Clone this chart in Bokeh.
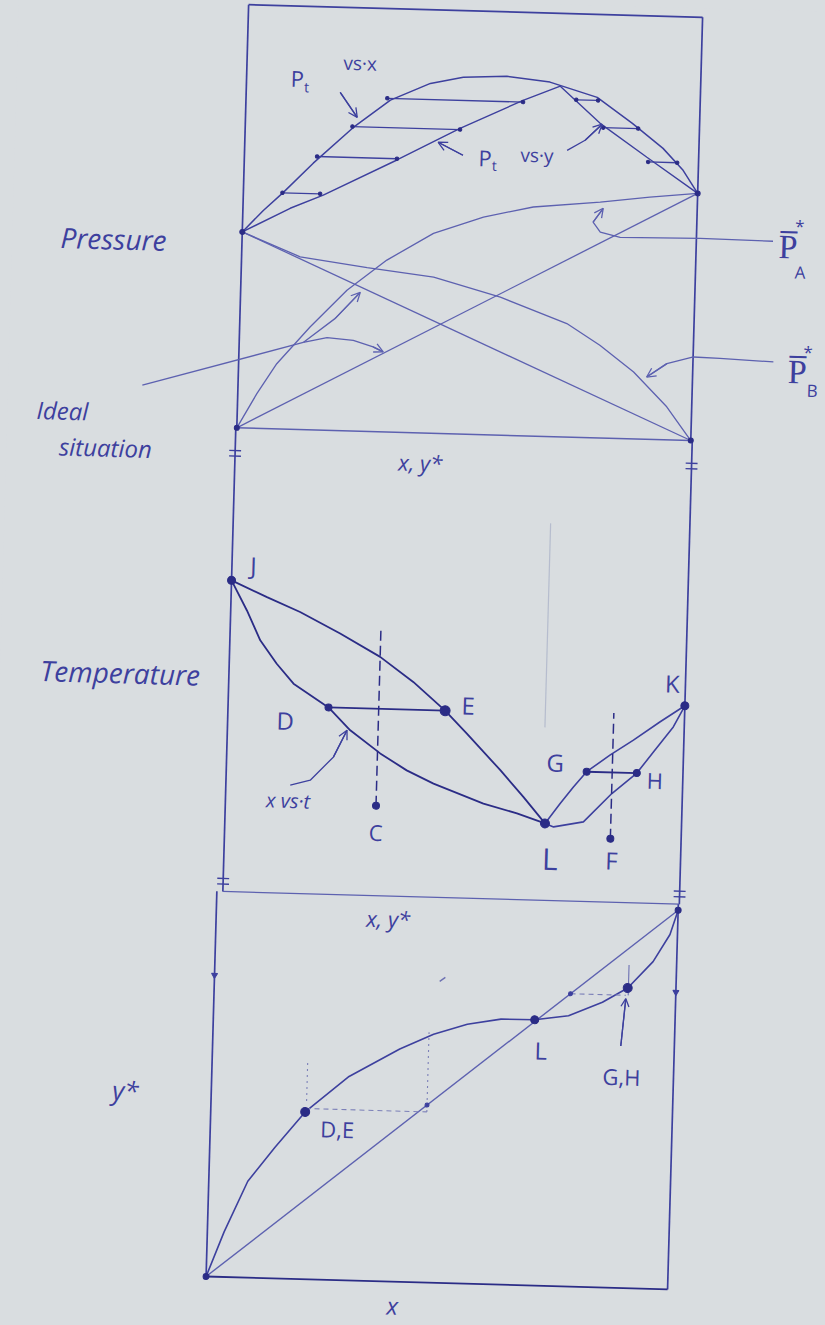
import math

from bokeh.plotting import figure
from bokeh.models import Range1d, Arrow, OpenHead, ColumnDataSource
from bokeh.layouts import column
from bokeh.core.properties import value
from bokeh.embed import file_html
from bokeh.resources import INLINE

W, H = 825, 1325
TILT = 1.6                       # the sheet sits slightly turned (degrees, clockwise)
PAPER = "#d9dde0"
INK = "#3d409e"
INK_SOFT = "#5d61b0"
INK_DARK = "#2b2c86"
FONT = "Open Sans"

# ---------------- pressure / composition diagram ----------------
PA_STAR = 0.584          # vapour pressure of pure A (x = 1)
PB_STAR = 0.463          # vapour pressure of pure B (x = 0)

pt_x_comp = [0.0, 0.045, 0.088, 0.152, 0.238, 0.318, 0.405, 0.477, 0.573, 0.668, 0.773, 0.852, 0.921, 0.9665, 1.0]
pt_x_pres = [PB_STAR, 0.515, 0.559, 0.630, 0.717, 0.784, 0.826, 0.843, 0.848, 0.837, 0.804, 0.745, 0.688, 0.6375, PA_STAR]

pt_y_comp = [0.0, 0.104, 0.176, 0.336, 0.473, 0.610, 0.691, 0.781, 0.886, 1.0]
pt_y_pres = [PB_STAR, 0.522, 0.555, 0.643, 0.722, 0.792, 0.828, 0.743, 0.666, PA_STAR]

tie_pres = [0.788, 0.719, 0.646, 0.558, 0.733, 0.655, 0.797]
tie_from = [0.311, 0.236, 0.160, 0.086, 0.788, 0.889, 0.727]
tie_to = [0.610, 0.473, 0.336, 0.169, 0.865, 0.953, 0.775]

pa_comp = [0.0, 0.042, 0.084, 0.155, 0.234, 0.320, 0.421, 0.530, 0.639, 0.786, 0.895, 1.0]
pa_pres = [0.0, 0.082, 0.154, 0.243, 0.332, 0.406, 0.472, 0.514, 0.541, 0.557, 0.572, PA_STAR]

pb_comp = [0.0, 0.129, 0.277, 0.424, 0.572, 0.720, 0.794, 0.870, 0.945, 1.0]
pb_pres = [PB_STAR, 0.408, 0.387, 0.369, 0.326, 0.268, 0.219, 0.158, 0.078, 0.0]

# ---------------- temperature / composition diagram ----------------
dew_comp = [0.0, 0.0786, 0.152, 0.241, 0.330, 0.404, 0.4755, 0.5245, 0.600, 0.652, 0.701]
dew_temp = [0.671, 0.637, 0.607, 0.563, 0.515, 0.463, 0.403, 0.355, 0.278, 0.222, 0.166]

bub_comp = [0.0, 0.0355, 0.0665, 0.104, 0.142, 0.220, 0.269, 0.336, 0.395, 0.4545, 0.565, 0.639, 0.701]
bub_temp = [0.671, 0.607, 0.5435, 0.494, 0.452, 0.403, 0.355, 0.307, 0.272, 0.245, 0.205, 0.186, 0.166]

dew2_comp = [0.701, 0.733, 0.761, 0.789, 0.839, 0.8895, 0.947, 1.0]
dew2_temp = [0.166, 0.2097, 0.246, 0.280, 0.317, 0.351, 0.392, 0.428]

bub2_comp = [0.701, 0.720, 0.785, 0.8455, 0.899, 0.934, 0.976, 1.0]
bub2_temp = [0.166, 0.159, 0.1716, 0.2345, 0.280, 0.3265, 0.3817, 0.428]

t_point_names = ["J", "D", "E", "K", "L", "G", "H", "C", "F"]
t_point_comp = [0.0, 0.220, 0.4755, 1.0, 0.701, 0.789, 0.899, 0.330, 0.845]
t_point_temp = [0.671, 0.403, 0.403, 0.428, 0.166, 0.280, 0.280, 0.194, 0.137]

feed_comp = [0.330, 0.845]          # overall compositions C and F
feed_top = [0.580, 0.408]

# ---------------- y* / x diagram ----------------
eq_x = [0.0, 0.0363, 0.0845, 0.141, 0.2046, 0.2975, 0.4056, 0.478, 0.5504, 0.623, 0.696, 0.769, 0.8416, 0.8955, 0.9488, 0.9838, 1.0]
eq_y = [0.0, 0.1189, 0.254, 0.345, 0.441, 0.5377, 0.614, 0.655, 0.684, 0.700, 0.7008, 0.714, 0.752, 0.7915, 0.8627, 0.9354, 1.0]

y_point_names = ["D,E", "L", "G,H"]
y_point_x = [0.2046, 0.696, 0.8955]
y_point_y = [0.441, 0.7008, 0.7915]


# ---------------- figure and panel scales ----------------
# the turned sheet is laid out by Bokeh at the size of its rotated bounding box
_c, _s = math.cos(math.radians(TILT)), math.sin(math.radians(TILT))
CW = W * _c + H * _s
CH = W * _s + H * _c


def x_span(u0, u1):
    k = u1 - u0
    return Range1d(-u0 / k, (CW - u0) / k)


def y_span(v0, v1):
    k = v0 - v1
    return Range1d((v0 - CH) / k, v0 / k)


p = figure(width=W, height=H, output_backend="svg", toolbar_location=None,
           min_border=0, x_axis_location=None, y_axis_location=None,
           x_range=Range1d(0, 1), y_range=Range1d(0, 1),
           background_fill_color=PAPER, border_fill_color=PAPER,
           outline_line_color=None)
p.grid.visible = False
p.extra_x_ranges = {"Px": x_span(230, 684.5), "Tx": x_span(229, 686), "Yx": x_span(223, 685)}
p.extra_y_ranges = {"P": y_span(432.5, 9), "T": y_span(896.5, 432.5), "Y": y_span(1282, 902.6)}

PP = dict(x_range_name="Px", y_range_name="P")
TT = dict(x_range_name="Tx", y_range_name="T")
YY = dict(x_range_name="Yx", y_range_name="Y")


def curve(xs, ys, kw, color=INK, width=1.4, dash="solid", alpha=1.0):
    p.line(xs, ys, line_color=color, line_width=width, line_dash=dash, line_alpha=alpha, **kw)


def arrow(xs, ys, kw, color=INK_SOFT, width=1.3, size=9):
    p.line(xs, ys, line_color=color, line_width=width, **kw)
    p.add_layout(Arrow(end=OpenHead(size=size, line_color=color, line_width=width),
                       x_start=xs[-2], y_start=ys[-2], x_end=xs[-1], y_end=ys[-1],
                       line_color=color, line_width=width, **kw))


def labels(kw, xs, ys, texts, sizes, style="normal", color=INK):
    src = ColumnDataSource(dict(x=xs, y=ys, t=texts, s=sizes))
    p.text("x", "y", text="t", source=src, text_font_size={"field": "s"},
           text_font=value(FONT), text_font_style=style, text_color=color,
           text_align="center", text_baseline="middle", **kw)


# ---- frames ----
FR = dict(color=INK, width=1.7)
curve([0, 1], [1.0, 1.0], PP, **FR)
curve([0, 0], [1.0, 0.0], PP, **FR)
curve([1, 1], [1.0, 0.0], PP, **FR)
curve([0, 1], [0.0, 0.0], PP, color=INK_SOFT, width=1.5)
curve([0, 0], [1.0, 0.0], TT, **FR)
curve([1, 1], [1.0, 0.0], TT, **FR)
curve([0, 1], [0.0, 0.0], TT, color=INK_SOFT, width=1.3)
curve([0, 0], [1.016, 0.0], YY, **FR)
curve([1, 1], [1.016, 0.0], YY, **FR)
curve([0, 1], [0.0, 0.0], YY, color=INK_DARK, width=1.8)

# "=" break marks on the verticals between the diagrams
for t in (0.945, 0.022):
    p.segment(x0=[-0.013, -0.013, 0.987, 0.987], x1=[0.013, 0.013, 1.013, 1.013],
              y0=[t - 0.006, t + 0.006, t - 0.006, t + 0.006],
              y1=[t - 0.006, t + 0.006, t - 0.006, t + 0.006],
              line_color=INK, line_width=1.4, **TT)

# ---- pressure diagram ----
curve(pt_x_comp, pt_x_pres, PP, color=INK, width=1.5)
curve(pt_y_comp, pt_y_pres, PP, color=INK, width=1.4)
p.segment(x0=tie_from, y0=tie_pres, x1=tie_to, y1=tie_pres, line_color=INK, line_width=1.3, **PP)
p.scatter(tie_from + tie_to, tie_pres + tie_pres, size=3.5, color=INK_DARK, **PP)
curve(pa_comp, pa_pres, PP, color=INK_SOFT, width=1.3)
curve(pb_comp, pb_pres, PP, color=INK_SOFT, width=1.3)
curve([0, 1], [0.0, PA_STAR], PP, color=INK_SOFT, width=1.3)       # ideal p_A
curve([0, 1], [PB_STAR, 0.0], PP, color=INK_SOFT, width=1.3)       # ideal p_B
p.scatter([0, 0, 1, 1], [PB_STAR, 0.0, PA_STAR, 0.0], size=5, color=INK_DARK, **PP)

arrow([0.207, 0.246], [0.799, 0.741], PP, color=INK)
arrow([0.481, 0.4257], [0.6586, 0.6876], PP, color=INK)
arrow([0.710, 0.749, 0.7855], [0.677, 0.702, 0.741], PP, color=INK)
arrow([1.1688, 1.008, 0.832, 0.788, 0.7716, 0.793], [0.476, 0.478, 0.475, 0.486, 0.509, 0.5426], PP)
arrow([1.177, 1.059, 1.0007, 0.9426, 0.899], [0.191, 0.196, 0.1974, 0.180, 0.147], PP)
curve([-0.2105, 0.141], [0.0945, 0.206], PP, color=INK_SOFT, width=1.3)
arrow([0.141, 0.210, 0.2634], [0.206, 0.265, 0.328], PP)
arrow([0.141, 0.193, 0.251, 0.295, 0.3176], [0.206, 0.219, 0.2144, 0.200, 0.189], PP)

labels(PP, [-0.283, -0.385, -0.288, 0.406],
       [0.439, 0.030, -0.0545, -0.069],
       ["Pressure", "Ideal", "situation", "x, y*"],
       ["28px", "24px", "24px", "22px"], style="italic")
labels(PP, [0.112, 0.133, 0.249, 0.530, 0.551, 0.644],
       [0.830, 0.810, 0.869, 0.655, 0.637, 0.6635],
       ["P", "t", "vs·x", "P", "t", "vs·y"],
       ["22px", "14px", "19px", "22px", "14px", "19px"])
labels(PP, [1.2024, 1.227, 1.230, 1.230, 1.253, 1.264],
       [0.4675, 0.513, 0.4045, 0.173, 0.216, 0.1266],
       ["P\u0305", "*", "A", "P\u0305", "*", "B"],
       ["34px", "17px", "17px", "34px", "17px", "17px"])

# ---- temperature diagram ----
curve([0.695, 0.695], [0.373, 0.813], TT, color="#9ea6c2", width=1.2, alpha=0.6)
curve(dew_comp, dew_temp, TT, color=INK_DARK, width=1.8)
curve(bub_comp, bub_temp, TT, color=INK_DARK, width=1.8)
curve(dew2_comp, dew2_temp, TT, color=INK, width=1.6)
curve(bub2_comp, bub2_temp, TT, color=INK, width=1.6)
p.segment(x0=[t_point_comp[1], t_point_comp[5]], y0=[t_point_temp[1], t_point_temp[5]],
          x1=[t_point_comp[2], t_point_comp[6]], y1=[t_point_temp[2], t_point_temp[6]],
          line_color=INK_DARK, line_width=1.9, **TT)
p.segment(x0=feed_comp, y0=[t_point_temp[7], t_point_temp[8]], x1=feed_comp, y1=feed_top,
          line_color=INK_DARK, line_width=1.5, line_dash="10 5", **TT)
p.scatter(t_point_comp, t_point_temp, size=[8, 7, 10, 8, 9, 7, 7, 7, 7], color=INK_DARK, **TT)
arrow([0.141, 0.1845, 0.234, 0.262], [0.233, 0.245, 0.2966, 0.355], TT, color=INK)

labels(TT, [0.047, 0.126, 0.5256, 0.971, 0.714, 0.7195, 0.939, 0.331, 0.849],
       [0.705, 0.3726, 0.416, 0.476, 0.091, 0.2985, 0.266, 0.1375, 0.0907],
       t_point_names[:1] + ["D", "E", "K", "L", "G", "H", "C", "F"],
       ["24px", "24px", "24px", "24px", "30px", "24px", "22px", "22px", "24px"])
labels(TT, [-0.238, 0.137], [0.466, 0.200], ["Temperature", "x vs·t"], ["28px", "20px"], style="italic")

# ---- y* / x diagram ----
curve([0, 1], [0, 1], YY, color=INK_SOFT, width=1.4)
curve(eq_x, eq_y, YY, color=INK, width=1.6)
curve([0.205, 0.468], [0.450, 0.450], YY, color="#7c80b8", width=1.1, dash="5 4")
curve([0.468, 0.468], [0.450, 0.660], YY, color="#7c80b8", width=1.1, dash="2 4")
curve([0.207, 0.207], [0.470, 0.580], YY, color="#7c80b8", width=1.1, dash="2 4")
curve([0.772, 0.892], [0.772, 0.772], YY, color="#7c80b8", width=1.1, dash="5 4")
curve([0.897, 0.897], [0.772, 0.852], YY, color="#6d71b2", width=1.1)
curve([0.488, 0.500], [0.795, 0.806], YY, color="#6d71b2", width=1.4)
p.scatter([0.468, 0.772], [0.468, 0.772], size=4, color=INK, **YY)
p.scatter(y_point_x, y_point_y, size=[9, 8, 9], color=INK_DARK, **YY)
p.scatter([0, 1], [0, 1], size=6, color=INK_DARK, **YY)
p.scatter([0, 1], [0.795, 0.784], marker="inverted_triangle", size=6, color=INK, **YY)
arrow([0.884, 0.892], [0.638, 0.763], YY, color=INK, size=8)

labels(YY, [0.275, 0.711, 0.8875], [0.399, 0.621, 0.558], y_point_names, ["22px", "24px", "22px"])
labels(YY, [0.3725, -0.186, 0.405], [0.9576, 0.485, -0.062], ["x, y*", "y*", "x"],
       ["22px", "26px", "24px"], style="italic")

p.styles = {"transform": f"rotate({TILT}deg)"}
page = column(p, width=W, height=H, styles={"background-color": PAPER, "overflow": "hidden"})

open("out.html", "w").write(file_html(page, INLINE))
